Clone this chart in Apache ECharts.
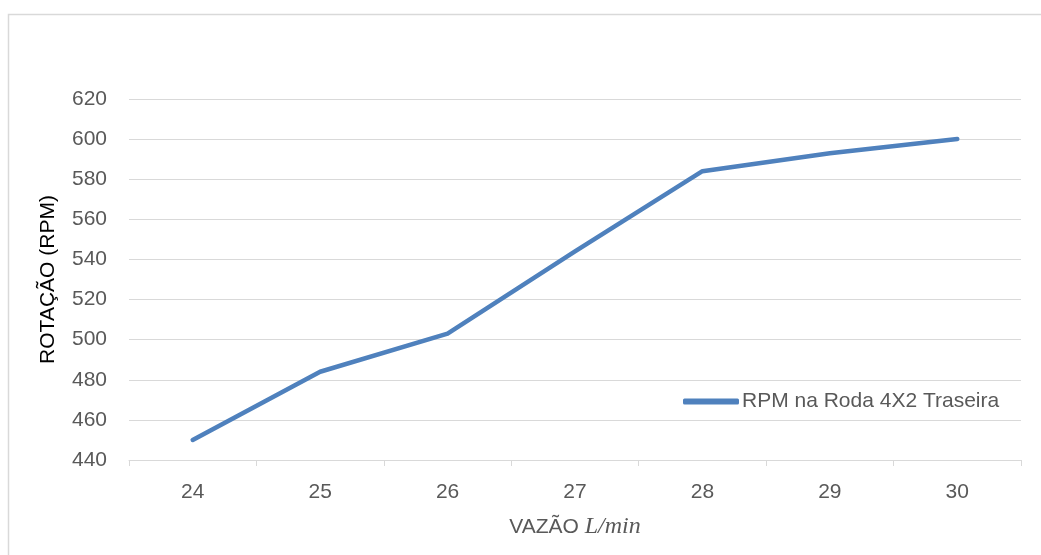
<!DOCTYPE html>
<html>
<head>
<meta charset="utf-8">
<script src="https://cdn.jsdelivr.net/npm/echarts@6/dist/echarts.min.js"></script>
<style>
html,body{margin:0;padding:0;background:#fff;}
#c{width:1041px;height:555px;}
</style>
</head>
<body>
<div id="c"></div>
<script>
const categories = ['24', '25', '26', '27', '28', '29', '30'];
const rpmValues = [450, 484, 503, 544, 584, 593, 600];
const seriesName = 'RPM na Roda 4X2 Traseira';
const yTicks = { min: 440, max: 620, interval: 20 };

const chart = echarts.init(document.getElementById('c'), null, { renderer: 'canvas' });
const font = 'Liberation Sans';
chart.setOption({
  animation: false,
  backgroundColor: '#fff',
  graphic: [{
    type: 'rect', left: 6, top: 12,
    shape: { width: 1100, height: 600 },
    style: { fill: 'none', stroke: '#d9d9d9', lineWidth: 1.5 },
    silent: true, z: -1
  }],
  grid: { left: 129, right: 20, top: 99, bottom: 95 },
  legend: {
    left: 678, top: 386,
    icon: 'roundRect', itemWidth: 56, itemHeight: 6,
    textStyle: { fontFamily: font, fontSize: 21, color: '#595959', padding: [0, 0, 0, -2] },
    data: [seriesName]
  },
  xAxis: {
    type: 'category',
    data: categories,
    boundaryGap: true,
    axisLine: { lineStyle: { color: '#d9d9d9', width: 1 } },
    axisTick: { show: true, length: 6, lineStyle: { color: '#d9d9d9' } },
    axisLabel: { color: '#595959', fontFamily: font, fontSize: 21, margin: 22 },
    name: '{a|VAZÃO }{b|L/min}',
    nameLocation: 'middle',
    nameGap: 55,
    nameTextStyle: {
      rich: {
        a: { fontFamily: font, fontSize: 21, color: '#595959' },
        b: { fontFamily: 'Liberation Serif', fontStyle: 'italic', fontSize: 24, color: '#595959' }
      }
    }
  },
  yAxis: {
    type: 'value',
    min: yTicks.min, max: yTicks.max, interval: yTicks.interval,
    axisLine: { show: false },
    axisTick: { show: false },
    splitLine: { lineStyle: { color: '#d9d9d9', width: 1 } },
    axisLabel: { color: '#595959', fontFamily: font, fontSize: 21, margin: 22 },
    name: 'ROTAÇÃO (RPM)',
    nameLocation: 'middle',
    nameGap: 70,
    nameTextStyle: { fontFamily: font, fontSize: 21, color: '#000' }
  },
  series: [{
    name: seriesName,
    type: 'line',
    data: rpmValues,
    showSymbol: false,
    symbol: 'none',
    lineStyle: { color: '#4f81bd', width: 4.5, cap: 'round', join: 'round' },
    itemStyle: { color: '#4f81bd' }
  }]
});
</script>
</body>
</html>
